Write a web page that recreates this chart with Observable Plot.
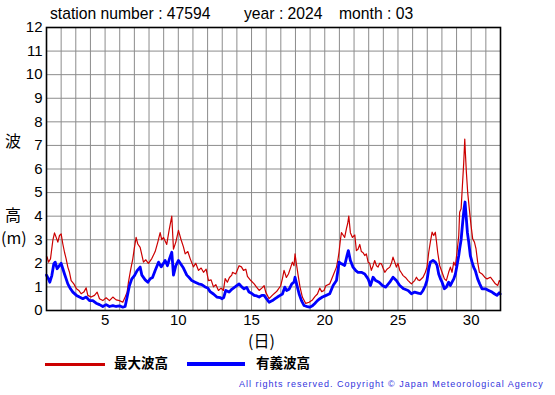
<!DOCTYPE html>
<html><head><meta charset="utf-8">
<script src="https://cdn.jsdelivr.net/npm/d3@7"></script>
<script src="https://cdn.jsdelivr.net/npm/@observablehq/plot@0.6"></script>
<style>
body{margin:0;background:#fff;}
#wrap{position:relative;width:555px;height:395px;font-family:"Liberation Sans",Arial,sans-serif;color:#000;overflow:hidden;}
.abs{position:absolute;white-space:nowrap;line-height:1;}
.cjk{font-family:"Noto Sans CJK JP",sans-serif;}
#plot{position:absolute;left:0;top:0;}
</style></head><body><div id="wrap"><div id="plot"></div></div>
<script>
// Data (day of month, metres)
const redDay = [1.0,1.045,1.136,1.273,1.432,1.546,1.66,1.774,1.887,2.0,2.115,2.229,2.342,2.456,2.57,2.684,2.866,3.048,3.207,3.366,3.548,3.708,3.821,4.049,4.276,4.458,4.618,4.845,5.073,5.3,5.528,5.755,5.983,6.21,6.37,6.506,6.597,6.734,6.893,7.006,7.12,7.234,7.394,
7.46,7.62,7.78,7.96,8.19,8.42,8.6,8.76,8.87,8.99,9.1,9.21,9.37,9.555,9.67,9.83,10.01,10.19,10.35,10.47,10.65,10.81,11.03,11.19,11.38,11.56,11.72,11.9,12.06,12.24,12.4,12.56,12.74,12.92,13.08,13.2,13.35,13.49,13.65,
13.7,13.92,14.15,14.31,14.45,14.61,14.72,14.95,15.18,15.33,15.52,15.7,15.86,15.97,16.2,16.43,16.61,16.77,16.99,17.11,17.22,17.38,17.52,17.68,17.79,17.9,17.97,18.06,18.18,18.31,18.47,18.7,18.93,19.16,19.34,19.5,19.66,19.79,19.95,20.07,
20.34,20.57,20.8,20.91,20.98,21.07,21.14,21.25,21.36,21.48,21.57,21.64,21.75,21.89,22.05,22.16,22.27,22.39,22.5,22.62,22.73,22.84,22.96,23.07,23.18,23.3,23.41,23.53,23.64,23.75,23.87,23.98,24.1,24.25,24.44,24.55,24.66,24.78,24.89,25.0,25.12,25.23,25.35,25.51,25.69,25.8,25.92,26.03,26.14,26.26,26.37,26.48,
26.71,26.87,26.98,27.1,27.21,27.33,27.44,27.55,27.62,27.71,27.85,28.01,28.17,28.3,28.46,28.58,28.69,28.81,28.92,29.03,29.15,29.21,29.31,29.4,29.49,29.56,29.6,29.67,29.76,29.87,29.99,30.1,30.22,30.33,30.44,30.56,30.74,30.92,31.08,31.31,31.49,31.65,31.81,31.92,31.98];
const redHeight = [2.3,2.26,2.05,2.19,2.97,3.29,3.1,2.9,3.18,3.25,2.82,2.47,2.19,1.84,1.62,1.27,1.13,0.92,0.85,0.71,0.78,0.96,0.64,0.57,0.64,0.78,0.5,0.42,0.54,0.42,0.57,0.45,0.42,0.35,0.57,0.78,1.2,1.69,2.19,2.68,3.1,2.82,2.68,
2.5,2.05,2.15,2.0,2.2,2.5,2.9,3.3,3.0,3.1,2.95,2.8,3.4,4.0,2.6,2.9,3.4,3.0,2.7,2.4,2.5,2.2,1.85,2.0,1.7,1.8,1.62,1.75,1.27,1.3,1.0,1.1,0.85,0.95,0.85,1.35,1.2,1.4,1.5,
1.62,1.55,1.9,1.85,1.7,1.75,1.45,1.27,1.13,1.0,0.85,0.95,1.05,0.78,0.5,0.65,0.75,0.85,1.05,1.35,1.7,1.4,1.55,1.84,2.05,1.9,2.4,2.0,1.5,1.0,0.57,0.3,0.35,0.45,0.6,0.7,0.95,0.8,0.85,1.05,
1.13,1.48,1.84,2.2,2.5,3.0,3.3,3.2,3.1,3.47,3.7,4.0,3.3,3.1,3.2,2.54,2.6,2.8,2.5,2.45,2.33,2.4,2.05,2.0,1.7,1.9,2.12,1.9,1.84,2.0,1.98,1.8,1.62,1.75,1.84,2.0,2.26,2.05,1.84,2.0,1.7,1.6,1.48,1.4,1.27,1.2,1.13,1.2,1.27,1.41,1.3,1.27,
1.41,1.62,1.84,2.47,2.9,3.32,3.18,3.32,2.97,2.47,1.9,1.62,1.34,1.27,1.62,1.84,1.62,2.05,1.9,2.47,3.18,4.17,4.31,5.3,6.28,7.27,6.71,5.86,5.0,4.31,3.6,3.04,2.9,2.61,2.05,1.62,1.55,1.41,1.34,1.41,1.27,1.13,1.06,1.27,1.22];

const blueDay = [1.0,1.045,1.136,1.227,1.364,1.5,1.592,1.728,1.887,2.0,2.115,2.229,2.342,2.456,2.638,2.798,3.048,3.253,3.48,3.708,3.935,4.163,4.39,4.618,4.845,5.073,5.3,5.528,5.755,5.983,6.21,6.37,6.506,6.665,6.825,7.006,7.189,7.394,
7.51,7.74,7.92,8.08,8.24,8.42,8.65,8.83,8.99,9.1,9.26,9.4,9.555,9.67,9.83,10.01,10.19,10.35,10.58,10.74,10.92,11.15,11.38,11.6,11.83,12.01,12.17,12.4,12.63,12.85,12.97,13.1,13.24,13.47,13.65,
13.92,14.15,14.33,14.49,14.67,14.83,15.02,15.18,15.36,15.52,15.7,15.86,16.02,16.2,16.43,16.61,16.77,16.95,17.11,17.27,17.4,17.56,17.75,17.9,17.97,18.09,18.25,18.41,18.59,18.82,18.97,19.16,19.32,19.5,19.66,19.84,20.02,
20.34,20.57,20.8,20.98,21.14,21.36,21.52,21.61,21.75,21.93,22.12,22.27,22.5,22.73,22.96,23.12,23.3,23.48,23.71,23.94,24.16,24.44,24.66,24.89,25.12,25.39,25.69,25.92,26.14,26.37,26.55,
26.71,26.87,26.98,27.1,27.21,27.39,27.55,27.67,27.78,27.9,28.01,28.17,28.3,28.46,28.58,28.69,28.81,28.92,29.03,29.15,29.21,29.31,29.42,29.51,29.58,29.65,29.74,29.83,29.94,30.06,30.17,30.28,30.44,30.58,30.74,30.97,31.19,31.42,31.58,31.76,31.92,31.98];
const blueHeight = [1.5,1.44,1.34,1.2,1.48,1.98,2.05,1.77,1.91,2.0,1.77,1.55,1.34,1.13,0.92,0.78,0.64,0.57,0.5,0.57,0.42,0.42,0.31,0.25,0.17,0.25,0.17,0.21,0.17,0.2,0.14,0.17,0.57,1.06,1.34,1.48,1.69,1.84,
1.5,1.3,1.2,1.35,1.4,1.7,2.05,1.85,2.0,2.12,1.9,2.2,2.47,1.5,1.9,2.12,1.95,1.8,1.5,1.4,1.27,1.2,1.13,1.1,1.0,0.95,0.8,0.7,0.57,0.55,0.5,0.55,0.85,0.78,0.9,
1.02,1.13,1.0,0.92,0.98,0.78,0.72,0.64,0.62,0.57,0.64,0.64,0.5,0.35,0.42,0.5,0.57,0.64,0.7,0.99,0.85,0.9,1.13,1.2,1.41,1.1,0.7,0.42,0.21,0.16,0.14,0.2,0.3,0.42,0.5,0.57,0.62,
0.71,1.06,1.27,2.05,1.98,1.91,2.33,2.54,2.12,1.84,1.69,1.62,1.62,1.55,1.34,1.06,1.41,1.27,1.2,1.06,0.99,1.2,1.41,1.27,1.06,0.92,0.85,0.71,0.78,0.74,0.71,
0.85,1.06,1.27,1.77,2.05,2.12,2.05,1.91,1.55,1.34,1.2,0.92,0.99,1.2,1.06,1.2,1.34,1.55,1.91,2.33,2.61,3.0,3.75,4.31,4.6,4.02,3.31,2.9,2.33,2.05,1.83,1.69,1.34,1.13,0.92,0.92,0.85,0.78,0.71,0.64,0.75,0.7];

const xTicks = [5, 10, 15, 20, 25, 30];
const yTicks = [0,1,2,3,4,5,6,7,8,9,10,11,12];
const gridDays = [1,2,3,4,5,6,7,8,9,10,11,12,13,14,15,16,17,18,19,20,21,22,23,24,25,26,27,28,29,30,31,32];
const titleParts = ["station number : 47594", "year : 2024", "month : 03"];
const yLabel = ["波", "高", "(m)"];
const xLabel = "(日)";
const seriesNames = ["最大波高", "有義波高"];
const seriesColors = ["#cc0000", "#0000ff"];
const copyright = "All rights reserved. Copyright © Japan Meteorological Agency";

const red = redDay.map((d, i) => ({day: d, h: redHeight[i]}));
const blue = blueDay.map((d, i) => ({day: d, h: blueHeight[i]}));

const chart = Plot.plot({
  width: 555, height: 345,
  marginLeft: 46, marginRight: 55, marginTop: 27, marginBottom: 35,
  style: {fontFamily: "'Liberation Sans', Arial, sans-serif", fontSize: "15px", background: "transparent", color: "#000"},
  x: {domain: [1, 32], ticks: xTicks, tickSize: 0, tickPadding: 4, label: null},
  y: {domain: [0, 12], ticks: yTicks, tickSize: 0, tickPadding: 4, label: null},
  marks: [
    Plot.gridX(gridDays, {stroke: "#8c8c8c", strokeOpacity: 1, strokeWidth: 1}),
    Plot.gridY(yTicks, {stroke: "#8c8c8c", strokeOpacity: 1, strokeWidth: 1}),
    Plot.line(red, {x: "day", y: "h", stroke: seriesColors[0], strokeWidth: 1.2}),
    Plot.line(blue, {x: "day", y: "h", stroke: seriesColors[1], strokeWidth: 2.8}),
    Plot.frame({stroke: "#000", strokeWidth: 1.6})
  ]
});
document.getElementById("plot").appendChild(chart);

const wrap = document.getElementById("wrap");
function addText(txt, css, cls) {
  const el = document.createElement("div");
  el.className = "abs" + (cls ? " " + cls : "");
  el.textContent = txt;
  Object.assign(el.style, css);
  wrap.appendChild(el);
  return el;
}
addText(titleParts[0], {left: "50px", top: "6px", fontSize: "15.7px"});
addText(titleParts[1], {left: "244px", top: "6px", fontSize: "15.7px"});
addText(titleParts[2], {left: "339px", top: "6px", fontSize: "15.7px"});
addText(yLabel[0], {left: "5px", top: "132px", fontSize: "16px"}, "cjk");
addText(yLabel[1], {left: "5px", top: "206px", fontSize: "16px"}, "cjk");
addText(yLabel[2], {left: "1px", top: "229px", fontSize: "16px"}, "cjk");
addText(xLabel, {left: "248px", top: "332px", fontSize: "16px"}, "cjk");
// legend
function legendLine(left, width, color, thick) {
  const el = document.createElement("div");
  el.className = "abs";
  Object.assign(el.style, {left: left + "px", top: (364 - thick / 2) + "px", width: width + "px", height: thick + "px", background: color});
  wrap.appendChild(el);
}
legendLine(45, 60, seriesColors[0], 3);
addText(seriesNames[0], {left: "114px", top: "356px", fontSize: "13.5px", fontWeight: "bold"}, "cjk");
legendLine(187, 58, seriesColors[1], 4);
addText(seriesNames[1], {left: "256px", top: "356px", fontSize: "13.5px", fontWeight: "bold"}, "cjk");
addText(copyright, {left: "239px", top: "380px", fontSize: "9px", letterSpacing: "1px", color: "#3333dd", fontFamily: "'Liberation Sans', Arial, sans-serif"});
</script>
</body></html>
